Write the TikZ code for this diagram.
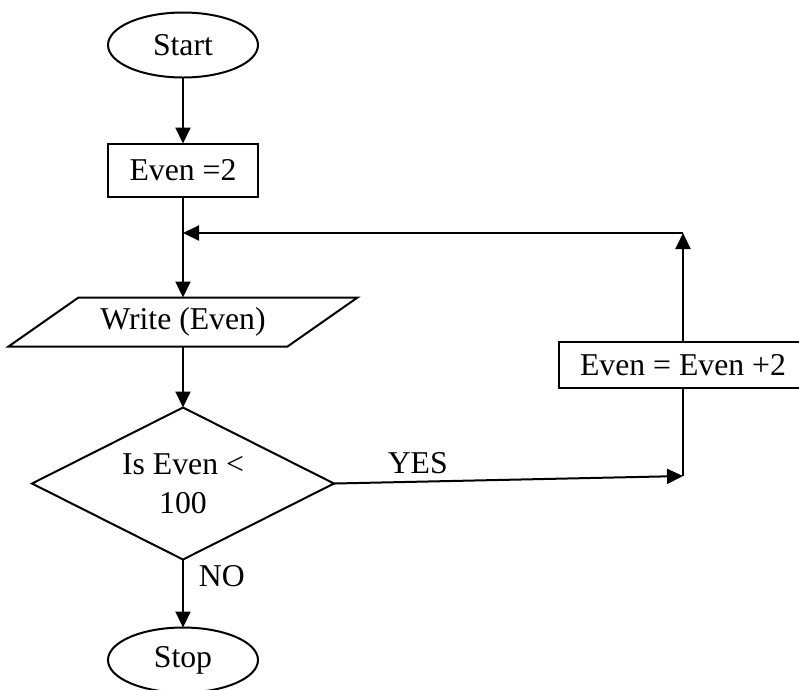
\documentclass[tikz,border=0pt]{standalone}
\usepackage{fontspec}
\setmainfont{Liberation Serif}
\usetikzlibrary{arrows.meta, positioning, shapes.geometric, calc}

\begin{document}
\begin{tikzpicture}[x=0.4pt, y=-0.4pt, font=\fontsize{12.7}{15.5}\selectfont,
    every node/.style={outer sep=0pt},
    flow/.style={-{Triangle[length=6.4pt, width=6pt]}, line width=0.8pt},
    plain/.style={line width=0.8pt}]
    \useasboundingbox (0,0) rectangle (799,689);

    \node (start) [draw, thick, ellipse, minimum width=60pt, minimum height=26pt, inner sep=0pt] at (183,45) {Start};
    \node (init) [draw, thick, rectangle, below=26.4pt of start, minimum width=60pt, minimum height=21.2pt] {Even =2};
    \node (write) [rectangle, below=40.4pt of init, minimum width=111.6pt, minimum height=19.6pt, inner sep=0pt] {Write (Even)};
    \draw[thick] ($(write.north west)+(35,0)$) -- ($(write.north east)+(35,0)$) -- ($(write.south east)+(-35,0)$) -- ($(write.south west)+(-35,0)$) -- cycle;
    \node (test) [draw, thick, diamond, aspect=2, below=24.4pt of write, minimum width=120.8pt, minimum height=60.8pt, inner sep=0pt, align=center] {Is Even <\\100};
    \node (stop) [draw, thick, ellipse, below=27.2pt of test, minimum width=60pt, minimum height=26pt, inner sep=0pt] {Stop};
    \node (inc) [draw, thick, rectangle, minimum width=99.2pt, minimum height=18.4pt] at (683,365) {Even = Even +2};
    \coordinate (yesend) at (683,476);
    \coordinate (back) at (183,233);

    \draw[flow] (start) -- (init);
    \draw[flow] (init) -- (init |- write.north);
    \draw[flow] (write) -- (test);
    \draw[flow] (test) -- node[pos=0.25, right, xshift=3pt] {NO} (stop);
    \draw[flow] (test.east) -- node[pos=0.24, above] {YES} (yesend);
    \draw[plain] (yesend) -- (inc);
    \draw[flow] (inc) -- (inc.north |- back);
    \draw[flow] (inc.north |- back) -- (back);
\end{tikzpicture}
\end{document}
